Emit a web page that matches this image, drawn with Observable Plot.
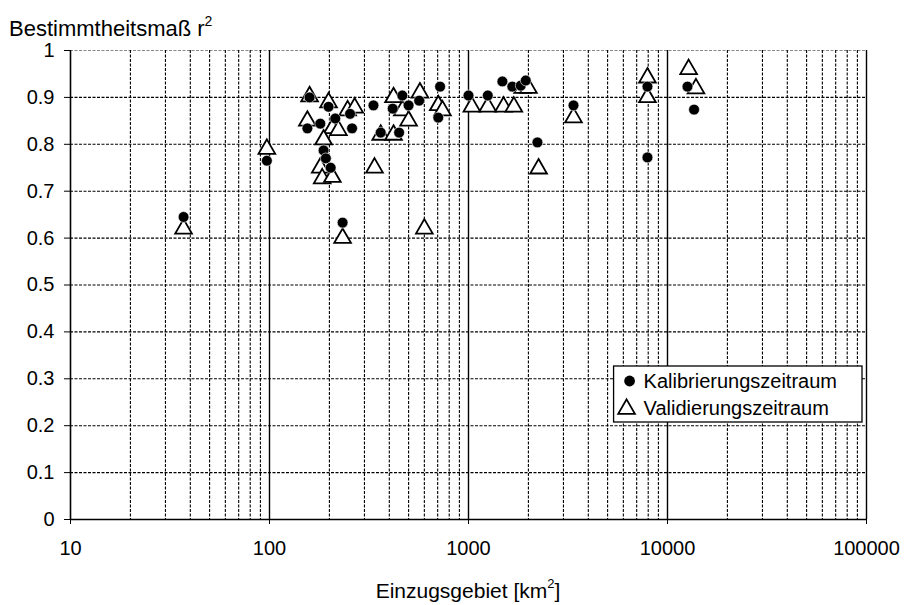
<!DOCTYPE html>
<html><head><meta charset="utf-8">
<script src="https://cdn.jsdelivr.net/npm/d3@7"></script>
<script src="https://cdn.jsdelivr.net/npm/@observablehq/plot@0.6"></script>
<style>
body{margin:0;background:#fff;}
svg{font-family:"Liberation Sans",Arial,sans-serif;}
</style>
</head><body><div id="chart"></div>
<script>
// Kalibrierungszeitraum (filled dots)
const kalArea = [37, 97, 159, 155, 180, 187, 192, 198, 203, 214, 233, 254, 260, 333, 362, 416, 448, 465, 500, 565, 705, 720, 1000, 1250, 1480, 1660, 1830, 1940, 2220, 3370, 7930, 7930, 12600, 13600];
const kalR2   = [0.645, 0.765, 0.90, 0.834, 0.844, 0.787, 0.77, 0.88, 0.75, 0.855, 0.633, 0.865, 0.834, 0.883, 0.825, 0.876, 0.825, 0.904, 0.883, 0.893, 0.857, 0.923, 0.904, 0.904, 0.934, 0.923, 0.925, 0.936, 0.804, 0.883, 0.923, 0.772, 0.923, 0.874];
// Validierungszeitraum (open triangles)
const valArea = [37, 97, 159, 155, 198, 247, 268, 207, 222, 187, 180, 184, 207, 233, 337, 362, 420, 420, 600, 465, 500, 570, 705, 740, 1040, 1250, 1500, 1690, 1870, 2000, 2250, 3370, 7930, 7930, 12770, 13900];
const valR2   = [0.62, 0.79, 0.902, 0.85, 0.889, 0.872, 0.878, 0.834, 0.83, 0.81, 0.75, 0.727, 0.73, 0.60, 0.75, 0.82, 0.82, 0.90, 0.62, 0.872, 0.85, 0.91, 0.883, 0.872, 0.88, 0.88, 0.88, 0.88, 0.92, 0.92, 0.748, 0.857, 0.942, 0.90, 0.96, 0.919];

const yTicks = [0, 0.1, 0.2, 0.3, 0.4, 0.5, 0.6, 0.7, 0.8, 0.9, 1];
const yTickLabels = ["0", "0.1", "0.2", "0.3", "0.4", "0.5", "0.6", "0.7", "0.8", "0.9", "1"];
const xTicks = [10, 100, 1000, 10000, 100000];
const xTickLabels = ["10", "100", "1000", "10000", "100000"];
const minorMultipliers = [2, 3, 4, 5, 6, 7, 8, 9];
const yTitle = "Bestimmtheitsmaß r";
const xTitle = "Einzugsgebiet [km";
const legendLabels = ["Kalibrierungszeitraum", "Validierungszeitraum"];

const kal = kalArea.map((a, i) => ({area: a, r2: kalR2[i]}));
const val = valArea.map((a, i) => ({area: a, r2: valR2[i]}));
const minorGrid = xTicks.slice(0, -1).flatMap(d => minorMultipliers.map(m => d * m));
const majorGrid = xTicks.slice(1);

const chart = Plot.plot({
  width: 905, height: 605,
  marginLeft: 70, marginRight: 39, marginTop: 50, marginBottom: 86,
  x: {type: "log", domain: [10, 100000]},
  y: {domain: [0, 1]},
  style: {fontFamily: "'Liberation Sans', Arial, sans-serif", fontSize: "20px", color: "#000", background: "#fff"},
  marks: [
    Plot.ruleY(yTicks.slice(1, -1), {stroke: "#000", strokeWidth: 1.1, strokeDasharray: "3,1.5"}),
    Plot.ruleY(yTicks.slice(-1), {stroke: "#888", strokeWidth: 1.1, strokeDasharray: "3,1.5"}),
    Plot.ruleX(minorGrid, {stroke: "#000", strokeWidth: 1.1, strokeDasharray: "3,1.5"}),
    Plot.ruleX(majorGrid, {stroke: "#000", strokeWidth: 1.4}),
    Plot.ruleX([10], {stroke: "#000", strokeWidth: 1.6}),
    Plot.ruleY([0], {stroke: "#000", strokeWidth: 1.6}),
    Plot.axisY({ticks: yTicks, tickSize: 6, tickPadding: 10, tickFormat: d => yTickLabels[yTicks.indexOf(d)], label: null, fontSize: 20}),
    Plot.axisX({anchor: "bottom", ticks: xTicks, tickSize: 5, tickPadding: 16, tickFormat: d => xTickLabels[xTicks.indexOf(d)], label: null, fontSize: 20}),
    Plot.dot(val, {x: "area", y: "r2", symbol: "triangle", r: 6.2, stroke: "#000", fill: "#fff", strokeWidth: 1.8}),
    Plot.dot(kal, {x: "area", y: "r2", r: 5.4, fill: "#000", stroke: "#fff", strokeWidth: 0.6})
  ]
});
document.getElementById("chart").appendChild(chart);

const svg = d3.select(chart);
// y title
const yt = svg.append("text").attr("x", 9).attr("y", 36).attr("text-anchor", "start").attr("font-size", 22).attr("fill", "#000").text(yTitle);
yt.append("tspan").attr("dy", -10).attr("font-size", 14).text("2");
// x title
const xt = svg.append("text").attr("x", 468).attr("y", 598).attr("text-anchor", "middle").attr("font-size", 21).attr("fill", "#000").text(xTitle);
xt.append("tspan").attr("dy", -10).attr("font-size", 13).text("2");
xt.append("tspan").attr("dy", 10).text("]");

// legend
const lg = svg.append("g").attr("text-anchor", "start");
const box = lg.append("rect").attr("fill", "#fff").attr("stroke", "#000").attr("stroke-width", 1.3);
const t1 = lg.append("text").attr("font-size", 20).attr("fill", "#000").attr("y", 388).text(legendLabels[0]);
const t2 = lg.append("text").attr("font-size", 20).attr("fill", "#000").attr("y", 415).text(legendLabels[1]);
const w = Math.max(t1.node().getComputedTextLength(), t2.node().getComputedTextLength());
const textX = 837 - w;
t1.attr("x", textX); t2.attr("x", textX);
box.attr("x", textX - 30).attr("y", 366).attr("width", 862 - (textX - 30)).attr("height", 56);
lg.append("circle").attr("cx", textX - 14).attr("cy", 381).attr("r", 5.4).attr("fill", "#000");
lg.append("path").attr("d", d3.symbol(d3.symbolTriangle, 6.2 * 6.2 * Math.PI)()).attr("transform", `translate(${textX - 17},409)`).attr("fill", "#fff").attr("stroke", "#000").attr("stroke-width", 1.8);
</script>
</body></html>
